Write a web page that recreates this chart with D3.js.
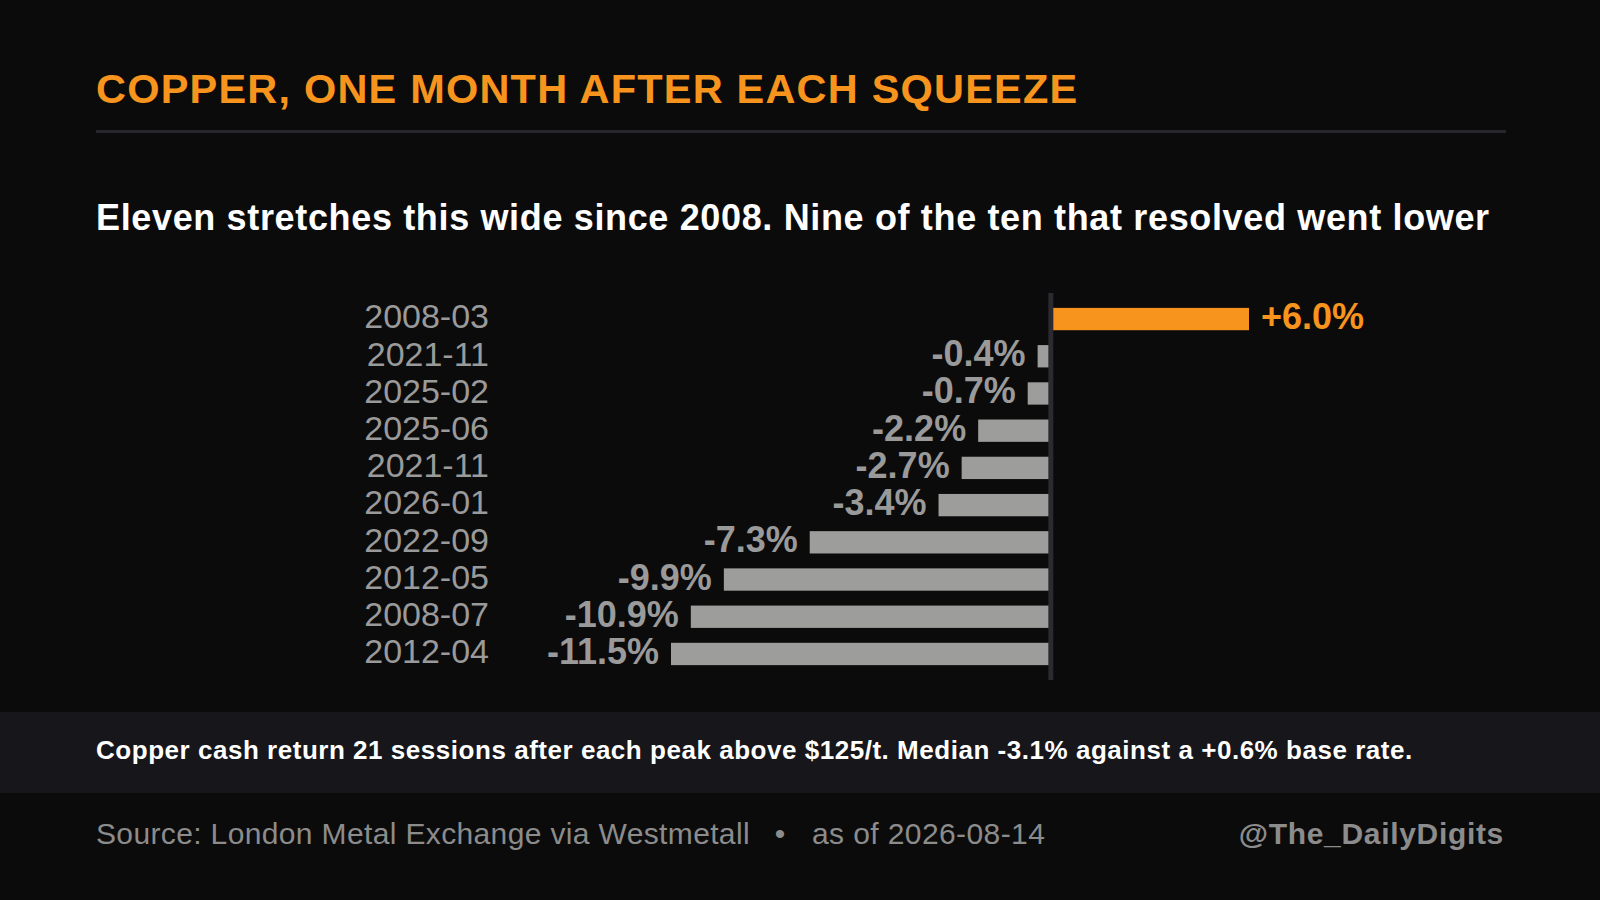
<!DOCTYPE html>
<html>
<head>
<meta charset="utf-8">
<script src="https://cdn.jsdelivr.net/npm/d3@7"></script>
<style>
  html, body { margin: 0; padding: 0; background: #0b0b0b; }
  svg { display: block; font-family: "Liberation Sans", Arial, sans-serif; }
</style>
</head>
<body>
<script>
const width = 1600;
const height = 900;

// one month after each squeeze, % change
const periods = ["2008-03", "2021-11", "2025-02", "2025-06", "2021-11", "2026-01", "2022-09", "2012-05", "2008-07", "2012-04"];
const returns = [6.0, -0.4, -0.7, -2.2, -2.7, -3.4, -7.3, -9.9, -10.9, -11.5];

const title = "COPPER, ONE MONTH AFTER EACH SQUEEZE";
const subtitle = "Eleven stretches this wide since 2008. Nine of the ten that resolved went lower";
const note = "Copper cash return 21 sessions after each peak above $125/t. Median -3.1% against a +0.6% base rate.";
const source = "Source: London Metal Exchange via Westmetall";
const asOf = "as of 2026-08-14";
const handle = "@The_DailyDigits";

const orange = "#f7941d";
const grey = "#9d9d9b";
const labelGrey = "#9a9a9a";

const rows = periods.map((p, i) => ({ id: i, period: p, value: returns[i] }));

const svg = d3.select("body").append("svg")
  .attr("width", width)
  .attr("height", height);

svg.append("rect")
  .attr("width", width)
  .attr("height", height)
  .attr("fill", "#0b0b0b");

// header
svg.append("text")
  .attr("x", 96)
  .attr("y", 103)
  .attr("fill", orange)
  .attr("font-size", 41.5)
  .attr("font-weight", "bold")
  .attr("letter-spacing", 1.2)
  .text(title);

svg.append("rect")
  .attr("x", 96)
  .attr("y", 130)
  .attr("width", 1410)
  .attr("height", 3)
  .attr("fill", "#26262c");

svg.append("text")
  .attr("x", 96)
  .attr("y", 229.5)
  .attr("fill", "#ffffff")
  .attr("font-size", 36)
  .attr("font-weight", "bold")
  .attr("letter-spacing", 0.65)
  .text(subtitle);

// scales
const x = d3.scaleLinear()
  .domain([d3.min(returns), d3.max(returns)])
  .range([671, 1249]);

const y = d3.scaleBand()
  .domain(rows.map((d) => d.id))
  .range([293, 680])
  .paddingInner(0.4)
  .paddingOuter(0.4);

const chart = svg.append("g");

chart.selectAll("rect.bar")
  .data(rows)
  .join("rect")
  .attr("class", "bar")
  .attr("x", (d) => x(Math.min(0, d.value)))
  .attr("y", (d) => y(d.id))
  .attr("width", (d) => Math.abs(x(d.value) - x(0)))
  .attr("height", y.bandwidth())
  .attr("fill", (d) => (d.value > 0 ? orange : grey));

// zero line
chart.append("line")
  .attr("x1", x(0))
  .attr("x2", x(0))
  .attr("y1", y.range()[0])
  .attr("y2", y.range()[1])
  .attr("stroke", "#2a2a30")
  .attr("stroke-width", 5);

// period labels
chart.selectAll("text.period")
  .data(rows)
  .join("text")
  .attr("class", "period")
  .attr("x", 489)
  .attr("y", (d) => y(d.id) + y.bandwidth() / 2 + 9.3)
  .attr("text-anchor", "end")
  .attr("fill", labelGrey)
  .attr("font-size", 34)
  .text((d) => d.period);

// value labels
chart.selectAll("text.value")
  .data(rows)
  .join("text")
  .attr("class", "value")
  .attr("x", (d) => (d.value > 0 ? x(d.value) + 12 : x(d.value) - 12))
  .attr("y", (d) => y(d.id) + y.bandwidth() / 2 + 10)
  .attr("text-anchor", (d) => (d.value > 0 ? "start" : "end"))
  .attr("fill", (d) => (d.value > 0 ? orange : labelGrey))
  .attr("font-size", 36)
  .attr("font-weight", "bold")
  .text((d) => (d.value > 0 ? "+" : "") + d.value.toFixed(1) + "%");

// note band
svg.append("rect")
  .attr("x", 0)
  .attr("y", 712)
  .attr("width", width)
  .attr("height", 81)
  .attr("fill", "#16161b");

svg.append("text")
  .attr("x", 96)
  .attr("y", 759)
  .attr("fill", "#ffffff")
  .attr("font-size", 26)
  .attr("font-weight", "bold")
  .attr("letter-spacing", 0.53)
  .text(note);

// footer
const foot = svg.append("g").attr("fill", "#8c8c8c").attr("font-size", 30);

const src = foot.append("text")
  .attr("x", 96)
  .attr("y", 844)
  .attr("letter-spacing", 0.36)
  .text(source);

const srcEnd = 96 + src.node().getComputedTextLength();

foot.append("text")
  .attr("x", srcEnd + 30)
  .attr("y", 844)
  .attr("text-anchor", "middle")
  .text("•");

foot.append("text")
  .attr("x", srcEnd + 62)
  .attr("y", 844)
  .attr("letter-spacing", 0.4)
  .text(asOf);

foot.append("text")
  .attr("x", 1504)
  .attr("y", 844)
  .attr("text-anchor", "end")
  .attr("font-weight", "bold")
  .attr("letter-spacing", 0.68)
  .text(handle);
</script>
</body>
</html>
